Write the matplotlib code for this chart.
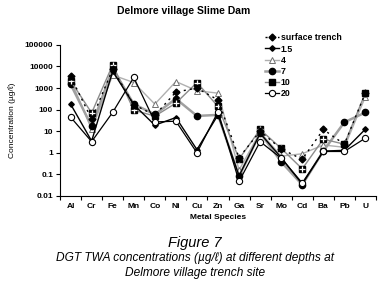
import matplotlib
matplotlib.use('Agg')
import matplotlib.pyplot as plt
import numpy as np

plt.rcParams['font.family'] = ['Liberation Sans', 'DejaVu Sans']

# metals on the x axis
metals = ['Al', 'Cr', 'Fe', 'Mn', 'Co', 'Ni', 'Cu', 'Zn', 'Ga', 'Sr', 'Mo', 'Cd', 'Ba', 'Pb', 'U']

# DGT TWA concentrations (ug/l), one list per depth
surface_trench = [3500, 36, 7500, 170, 55, 650, 1000, 280, 0.6, 10, 1.5, 0.5, 12, 2.5, 600]
depth_1_5 = [180, 3.5, 6000, 170, 19, 43, 1.4, 57, 0.085, 8, 0.6, 0.035, 1.2, 1.3, 12.5]
depth_4 = [2500, 12, 4000, 1800, 180, 2000, 750, 580, 0.16, 9, 0.7, 0.9, 2.3, 1.8, 400]
depth_7 = [1500, 17, 8000, 180, 60, 320, 51, 57, 0.08, 8.5, 0.38, 0.033, 1.2, 26, 74]
depth_10 = [2200, 70, 12000, 95, 50, 200, 1800, 140, 0.52, 12, 1.6, 0.18, 4.3, 2.5, 600]
depth_20 = [45, 3.3, 75, 3100, 27, 29, 1.0, 80, 0.047, 3.3, 0.56, 0.04, 1.15, 1.15, 4.8]

x = np.arange(len(metals))

fig = plt.figure(figsize=(3.9, 2.84), dpi=100)
ax = fig.add_axes([0.154, 0.31, 0.81, 0.532])

# draw back to front
ax.plot(x, depth_4, color='#b0b0b0', lw=1.0, marker='^', ms=4,
        mfc='white', mec='#707070', mew=0.7, label='4', zorder=2)
ax.plot(x, depth_7, color='#a0a0a0', lw=1.8, marker='o', ms=4.5,
        mfc='black', mec='black', label='7', zorder=3)
ax.plot(x, depth_10, color='#8c8c8c', lw=1.0, marker='s', ms=4.5,
        mfc='black', mec='black', label='10', zorder=4)
ax.plot(x, depth_10, ls='none', marker='+', ms=4.5, mew=0.9,
        color='white', zorder=4.5)
ax.plot(x, surface_trench, color='black', lw=1.0, ls=(0, (1.5, 3)), marker='D',
        ms=3.5, mfc='black', mec='black', label='surface trench', zorder=5)
ax.plot(x, depth_1_5, color='black', lw=1.0, marker='D', ms=2.8,
        mfc='black', mec='black', label='1.5', zorder=5)
ax.plot(x, depth_20, color='black', lw=0.9, marker='o', ms=4.5,
        mfc='white', mec='black', mew=0.8, label='20', zorder=6)

ax.set_yscale('log')
ax.set_ylim(0.01, 100000)
ax.set_yticks([0.01, 0.1, 1, 10, 100, 1000, 10000, 100000])
ax.set_yticklabels(['0.01', '0.1', '1', '10', '100', '1000', '10000', '100000'],
                   fontsize=6, fontweight='bold')
ax.minorticks_off()

ax.set_xlim(-0.5, len(metals) - 0.5)
ax.set_xticks(np.arange(-0.5, len(metals), 1.0))
ax.set_xticklabels([])
ax.set_xticks(x, minor=True)
ax.set_xticklabels(metals, minor=True, fontsize=6, fontweight='bold')
ax.tick_params(axis='x', which='minor', length=0, pad=5)
ax.tick_params(axis='x', which='major', length=3, width=0.8)
ax.tick_params(axis='y', length=3, width=0.8, pad=2)

for s in ['top', 'right']:
    ax.spines[s].set_visible(False)
for s in ['left', 'bottom']:
    ax.spines[s].set_linewidth(0.8)

ax.set_xlabel('Metal Species', fontsize=6, fontweight='bold', labelpad=3)
ax.set_ylabel('Concentration (µg/ℓ)', fontsize=6, labelpad=6)

# legend order as in the chart
handles, labels = ax.get_legend_handles_labels()
order = ['surface trench', '1.5', '4', '7', '10', '20']
hl = dict(zip(labels, handles))
leg = fig.legend([hl[k] for k in order], order, loc='upper left',
                 bbox_to_anchor=(0.67, 0.895), frameon=False,
                 prop={'size': 6.3, 'weight': 'bold'}, handlelength=1.6,
                 handletextpad=0.2, labelspacing=0.25, borderaxespad=0)

fig.text(0.47, 0.963, 'Delmore village Slime Dam', ha='center', va='center',
         fontsize=7.5, fontweight='bold')

fig.text(0.5, 0.145, 'Figure 7', ha='center', va='center', fontsize=10.5,
         style='italic')
fig.text(0.5, 0.09, 'DGT TWA concentrations (µg/ℓ) at different depths at',
         ha='center', va='center', fontsize=8.6, style='italic')
fig.text(0.5, 0.04, 'Delmore village trench site',
         ha='center', va='center', fontsize=8.6, style='italic')

fig.savefig('out.png', dpi=100)
